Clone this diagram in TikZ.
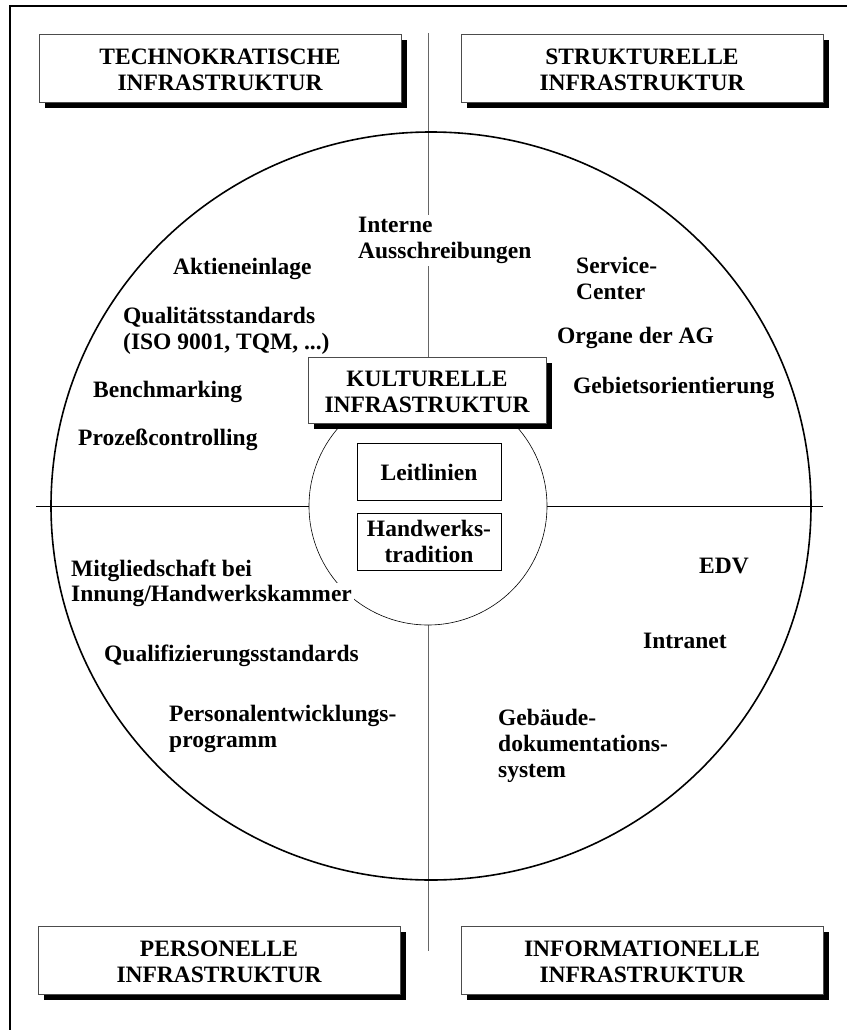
\documentclass[tikz,border=0pt]{standalone}
\usepackage{fontspec}
\setmainfont{Liberation Serif}
\usetikzlibrary{positioning, shapes.geometric, shadows}

\newcommand{\itemfont}{\fontsize{23.5}{26}\selectfont\bfseries}
\newcommand{\kopf}[2]{\rule{0pt}{20pt}#1\\#2}

\begin{document}
\begin{tikzpicture}[
    x=1pt, y=-1pt,
    infra/.style={rectangle, draw=black!70, fill=white, line width=0.6pt, minimum width=362pt, minimum height=68pt, align=center, font=\itemfont, drop shadow={shadow xshift=6pt, shadow yshift=-6pt, opacity=1, fill=black}},
    innen/.style={rectangle, draw, fill=white, line width=0.6pt, minimum width=144pt, minimum height=57pt, align=center, font=\itemfont},
    item/.style={anchor=north west, align=left, inner sep=2pt, fill=white, font=\itemfont},
    achse/.style={line width=0.7pt}
]
\useasboundingbox (0,0) rectangle (847,1030);

% Rahmen
\draw[line width=2pt] (10,1030) -- (10,6) -- (847,6);

% Achsen
\coordinate (oben) at (428,33);
\coordinate (unten) at (428,951);
\coordinate (links) at (36,506);
\coordinate (rechts) at (823,506);
\draw[achse, black!60] (oben) -- (unten);
\draw[achse] (links) -- (rechts);

% Kreise
\node[ellipse, draw, line width=1.6pt, minimum width=760pt, minimum height=748pt] (welt) at (431,506) {};
\node[circle, draw, fill=white, line width=0.6pt, minimum size=238pt] (mitte) at (428,506) {};

% Infrastrukturen
\node[infra] (techno) at (220,68) {\kopf{TECHNOKRATISCHE}{INFRASTRUKTUR}};
\node[infra] (struktur) at (642,68) {\kopf{STRUKTURELLE}{INFRASTRUKTUR}};
\node[infra] (personell) at (219,960) {\kopf{PERSONELLE}{INFRASTRUKTUR}};
\node[infra] (info) at (642,960) {\kopf{INFORMATIONELLE}{INFRASTRUKTUR}};
\node[infra, minimum width=238pt, minimum height=66pt] (kultur) at (427,390) {\kopf{KULTURELLE}{INFRASTRUKTUR}};

% Kern
\node[innen] (leit) at (429,472) {Leitlinien};
\node[innen, below=12pt of leit] (handwerk) {Handwerks-\\tradition};

% Technokratisch
\node[item] (aktie) at (171,256) {Aktieneinlage};
\node[item] (qualitaet) at (121,305) {Qualitätsstandards\\(ISO 9001, TQM, ...)};
\node[item] (bench) at (91,379) {Benchmarking};
\node[item] (prozess) at (76,427) {Prozeßcontrolling};

% Strukturell
\node[item] (intern) at (356,215) {Interne\\Ausschreibungen};
\node[item] (service) at (574,255) {Service-\\Center};
\node[item] (organe) at (555,325) {Organe der AG};
\node[item] (gebiet) at (571,375) {Gebietsorientierung};

% Personell
\node[item, fill=none] (mitglied) at (69,558) {Mitgliedschaft bei};
\node[item] (innung) at (69,583) {Innung/Handwerkskammer};
\node[item] (qualifiz) at (102,643) {Qualifizierungsstandards};
\node[item] (entwickl) at (167,703) {Personalentwicklungs-\\programm};

% Informationell
\node[item] (edv) at (697,556) {EDV};
\node[item] (intranet) at (641,631) {Intranet};
\node[item] (gebaeude) at (496,707) {Gebäude-\\dokumentations-\\system};
\end{tikzpicture}
\end{document}
